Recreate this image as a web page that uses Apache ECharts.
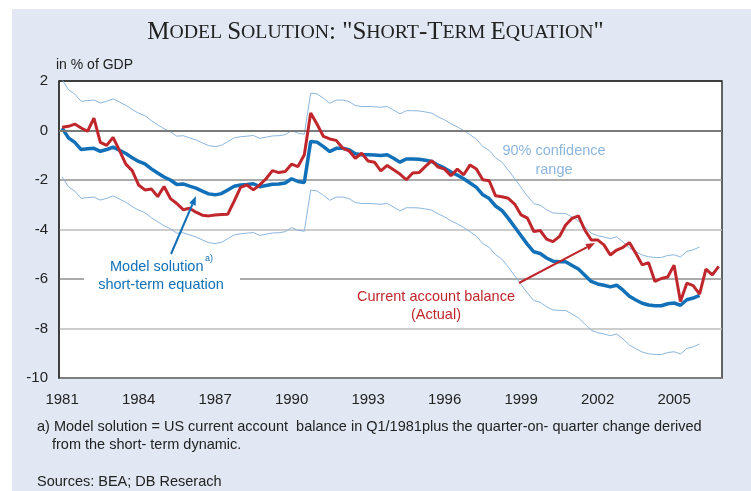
<!DOCTYPE html>
<html>
<head>
<meta charset="utf-8">
<title>Model solution: short-term equation</title>
<script src="https://cdn.jsdelivr.net/npm/echarts@6/dist/echarts.min.js"></script>
<style>
  html, body { margin: 0; padding: 0; background: #fff; }
  #chart { width: 751px; height: 491px; }
</style>
</head>
<body>
<div id="chart"></div>
<script>
// quarterly data, first point = Q1/1981
var startYear = 1981;
var yearTicks = [1981, 1984, 1987, 1990, 1993, 1996, 1999, 2002, 2005];

// current account balance (actual), % of GDP
var actual = [
  0.13, 0.17, 0.26, 0.10, -0.03, 0.50, -0.48, -0.60, -0.28, -0.80,
  -1.36, -1.62, -2.20, -2.40, -2.36, -2.67, -2.26, -2.75, -2.95, -3.20,
  -3.14, -3.30, -3.42, -3.45, -3.41, -3.39, -3.38, -2.85, -2.30, -2.20,
  -2.40, -2.20, -1.95, -1.62, -1.70, -1.66, -1.36, -1.46, -0.98, 0.71,
  0.25, -0.24, -0.34, -0.40, -0.71, -0.82, -1.12, -0.92, -1.23, -1.28,
  -1.63, -1.41, -1.59, -1.76, -1.99, -1.72, -1.70, -1.45, -1.22, -1.48,
  -1.56, -1.83, -1.56, -1.79, -1.39, -1.56, -1.99, -2.03, -2.64, -2.68,
  -2.74, -2.97, -3.41, -3.54, -4.08, -4.04, -4.39, -4.49, -4.29, -3.82,
  -3.55, -3.45, -4.02, -4.42, -4.42, -4.62, -5.03, -4.83, -4.72, -4.53,
  -4.96, -5.43, -5.34, -6.10, -5.98, -5.92, -5.44, -6.91, -6.17, -6.27,
  -6.61, -5.60, -5.83, -5.49
];

// model solution, short-term equation
var model = [
  0.10, -0.30, -0.48, -0.77, -0.74, -0.72, -0.84, -0.77, -0.67, -0.80,
  -0.93, -1.10, -1.25, -1.35, -1.55, -1.72, -1.88, -2.00, -2.18, -2.16,
  -2.25, -2.33, -2.45, -2.56, -2.60, -2.55, -2.40, -2.25, -2.20, -2.18,
  -2.15, -2.27, -2.22, -2.17, -2.16, -2.12, -1.95, -2.06, -2.10, -0.44,
  -0.47, -0.65, -0.85, -0.72, -0.72, -0.78, -0.94, -0.98, -0.98, -0.99,
  -1.01, -0.98, -1.12, -1.28, -1.15, -1.15, -1.16, -1.20, -1.25, -1.40,
  -1.52, -1.68, -1.80, -1.95, -2.12, -2.30, -2.60, -2.75, -3.05, -3.23,
  -3.55, -3.90, -4.25, -4.60, -4.90, -4.97, -5.15, -5.28, -5.30, -5.30,
  -5.45, -5.60, -5.85, -6.10, -6.20, -6.25, -6.32, -6.25, -6.45, -6.70,
  -6.85, -6.98, -7.05, -7.08, -7.08, -7.00, -6.97, -7.06, -6.84, -6.77,
  -6.66
];

// 90% confidence range, upper bound
var upper = [
  2.05, 1.65, 1.47, 1.18, 1.21, 1.23, 1.11, 1.18, 1.28, 1.15,
  1.02, 0.85, 0.70, 0.60, 0.40, 0.23, 0.07, -0.05, -0.23, -0.21,
  -0.30, -0.38, -0.50, -0.61, -0.65, -0.60, -0.45, -0.30, -0.25, -0.23,
  -0.20, -0.32, -0.27, -0.22, -0.21, -0.17, 0.00, -0.11, -0.15, 1.51,
  1.48, 1.30, 1.10, 1.23, 1.23, 1.17, 1.01, 0.97, 0.97, 0.96,
  0.94, 0.97, 0.83, 0.67, 0.80, 0.80, 0.79, 0.75, 0.70, 0.55,
  0.43, 0.27, 0.15, 0.00, -0.17, -0.35, -0.65, -0.80, -1.10, -1.28,
  -1.60, -1.95, -2.30, -2.65, -2.95, -3.02, -3.20, -3.33, -3.35, -3.35,
  -3.50, -3.65, -3.90, -4.15, -4.25, -4.30, -4.37, -4.30, -4.50, -4.75,
  -4.90, -5.03, -5.10, -5.13, -5.13, -5.05, -5.02, -5.11, -4.89, -4.82,
  -4.71
];

// 90% confidence range, lower bound
var lower = [
  -1.87, -2.27, -2.45, -2.74, -2.71, -2.69, -2.81, -2.74, -2.64, -2.77,
  -2.90, -3.07, -3.22, -3.32, -3.52, -3.69, -3.85, -3.97, -4.15, -4.13,
  -4.22, -4.30, -4.42, -4.53, -4.57, -4.52, -4.37, -4.22, -4.17, -4.15,
  -4.12, -4.24, -4.19, -4.14, -4.13, -4.09, -3.92, -4.03, -4.07, -2.41,
  -2.44, -2.62, -2.82, -2.69, -2.69, -2.75, -2.91, -2.95, -2.95, -2.96,
  -2.98, -2.95, -3.09, -3.25, -3.12, -3.12, -3.13, -3.17, -3.22, -3.37,
  -3.49, -3.65, -3.77, -3.92, -4.09, -4.27, -4.57, -4.72, -5.02, -5.20,
  -5.52, -5.87, -6.22, -6.57, -6.87, -6.94, -7.12, -7.25, -7.27, -7.27,
  -7.42, -7.57, -7.82, -8.07, -8.17, -8.22, -8.29, -8.22, -8.42, -8.67,
  -8.82, -8.95, -9.02, -9.05, -9.05, -8.97, -8.94, -9.03, -8.81, -8.74,
  -8.63
];

// pair each value with its quarter (as a decimal year)
function toPoints(arr) {
  var out = [];
  for (var i = 0; i < arr.length; i++) {
    out.push([startYear + i / 4, arr[i]]);
  }
  return out;
}

// line + triangle head for the annotation arrows
function arrow(x1, y1, x2, y2, color) {
  var dx = x2 - x1, dy = y2 - y1;
  var len = Math.sqrt(dx * dx + dy * dy);
  var ux = dx / len, uy = dy / len;
  var hl = 9, hw = 3.5;
  var bx = x2 - ux * hl, by = y2 - uy * hl;
  return [
    { type: 'line', z: 50, shape: { x1: x1, y1: y1, x2: bx, y2: by },
      style: { stroke: color, lineWidth: 2 } },
    { type: 'polygon', z: 50,
      shape: { points: [[x2, y2], [bx - uy * hw, by + ux * hw], [bx + uy * hw, by - ux * hw]] },
      style: { fill: color } }
  ];
}

var blue = '#1170b8';
var red = '#c0272d';
var light = '#8cb6de';
var sans = "'Liberation Sans', Arial, sans-serif";
var serif = "'Liberation Serif', 'Times New Roman', serif";
var noteFont = "14.5px 'Liberation Sans', Arial, sans-serif";

var myChart = echarts.init(document.getElementById('chart'));

var graphics = [
  { type: 'rect', z: -10, shape: { x: 12, y: 9, width: 739, height: 482 },
    style: { fill: '#e1e8f3' } },
  { type: 'text', left: 56, top: 58, z: 50,
    style: { text: 'in % of GDP', font: '14px ' + sans, fill: '#222' } },
  // model solution label, white box cuts the -6 grid line
  { type: 'rect', z: 40, shape: { x: 84, y: 252, width: 156, height: 42 },
    style: { fill: '#fff' } },
  { type: 'text', x: 110, y: 259, z: 50,
    style: { text: 'Model solution', font: '14.5px ' + sans, fill: blue } },
  { type: 'text', x: 205, y: 254, z: 50,
    style: { text: 'a)', font: '9px ' + sans, fill: blue } },
  { type: 'text', x: 161, y: 277, z: 50,
    style: { text: 'short-term equation', font: '14.5px ' + sans, fill: blue, align: 'center' } },
  { type: 'text', x: 554, y: 141, z: 50,
    style: { text: '90% confidence\nrange', font: '14.5px ' + sans, fill: light,
             align: 'center', lineHeight: 19 } },
  { type: 'text', x: 436, y: 288, z: 50,
    style: { text: 'Current account balance\n(Actual)', font: '14.5px ' + sans, fill: red,
             align: 'center', lineHeight: 18 } },
  { type: 'text', left: 37, top: 419, z: 50,
    style: { text: 'a) Model solution = US current account  balance in Q1/1981plus the quarter-on- quarter change derived',
             font: noteFont, fill: '#222' } },
  { type: 'text', left: 52, top: 437, z: 50,
    style: { text: 'from the short- term dynamic.', font: noteFont, fill: '#222' } },
  { type: 'text', left: 37, top: 474, z: 50,
    style: { text: 'Sources: BEA; DB Reserach', font: noteFont, fill: '#222' } }
];
graphics = graphics.concat(arrow(171, 254, 196, 196, blue));
graphics = graphics.concat(arrow(519, 283, 595, 243, red));

var option = {
  animation: false,
  title: {
    text: '{b|M}{s|ODEL} {b|S}{s|OLUTION}{b|: "S}{s|HORT}{b|-T}{s|ERM} {b|E}{s|QUATION}{b|"}',
    left: 'center',
    top: 15,
    textStyle: {
      fontWeight: 'normal',
      rich: {
        b: { fontFamily: serif, fontSize: 25, fontWeight: 'normal', color: '#222' },
        s: { fontFamily: serif, fontSize: 19.8, fontWeight: 'normal', color: '#222' }
      }
    }
  },
  grid: {
    left: 59, top: 81, right: 29, bottom: 113,
    show: true, backgroundColor: '#fff', borderColor: '#333', borderWidth: 1.5
  },
  xAxis: {
    type: 'value',
    min: 1980.88,
    max: 2006.88,
    splitLine: { show: false },
    axisTick: { show: false },
    axisLine: { show: true, lineStyle: { color: '#333', width: 1.5 } },
    axisLabel: {
      customValues: yearTicks,
      fontFamily: sans, fontSize: 15, color: '#222', margin: 14,
      formatter: function (v) { return String(v); }
    }
  },
  yAxis: {
    type: 'value',
    min: -10,
    max: 2,
    interval: 2,
    axisTick: { show: false },
    axisLine: { show: true, lineStyle: { color: '#333', width: 1.5 } },
    axisLabel: { fontFamily: sans, fontSize: 15, color: '#222', margin: 11 },
    splitLine: {
      lineStyle: {
        width: 1.5,
        color: ['#888', '#bcbcbc', '#8f8f8f', '#bcbcbc', '#8f8f8f', '#7a7a7a', '#333']
      }
    }
  },
  graphic: graphics,
  series: [
    {
      name: 'zero', type: 'line', data: [], silent: true,
      markLine: {
        symbol: 'none', silent: true, label: { show: false },
        lineStyle: { color: '#7a7a7a', width: 2.2, type: 'solid' },
        data: [{ yAxis: 0 }]
      }
    },
    { name: 'upper', type: 'line', data: toPoints(upper), showSymbol: false,
      lineStyle: { color: light, width: 1 }, z: 3 },
    { name: 'lower', type: 'line', data: toPoints(lower), showSymbol: false,
      lineStyle: { color: light, width: 1 }, z: 3 },
    { name: 'Model solution', type: 'line', data: toPoints(model), showSymbol: false,
      lineStyle: { color: blue, width: 3.5 }, z: 4 },
    { name: 'Current account balance', type: 'line', data: toPoints(actual), showSymbol: false,
      lineStyle: { color: red, width: 3 }, z: 5 }
  ]
};

myChart.setOption(option);
</script>
</body>
</html>
